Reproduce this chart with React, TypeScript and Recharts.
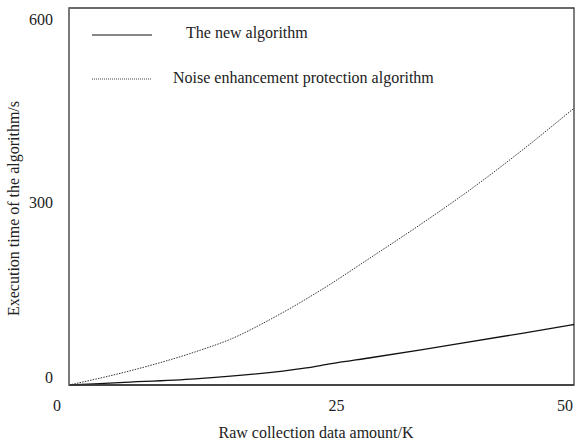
import React from "react";
import { LineChart, Line, XAxis, YAxis, ReferenceArea } from "recharts";

// raw collection data amount (K) and execution time (s)
const newAlgoX = [0, 5, 12.5, 23.5, 26, 30, 35, 38, 45, 50];
const newAlgoY = [0, 4, 10, 28, 35, 45, 58, 66, 85, 99];

const noiseX = [0, 6, 13, 16, 20, 25, 30, 35, 40, 45, 50];
const noiseY = [0, 23, 57, 75, 108, 156, 210, 265, 323, 386, 453];

const xTicks = [0, 25, 50];
const yTicks = [0, 300, 600];

const seriesNames = ["The new algorithm", "Noise enhancement protection algorithm"];

const newAlgoData = newAlgoX.map((x, i) => ({ x, y: newAlgoY[i] }));
const noiseData = noiseX.map((x, i) => ({ x, y: noiseY[i] }));

const FONT = "'Liberation Serif', 'Times New Roman', serif";
const AXIS = "#3a3a3a";

const xShift: Record<number, number> = { 0: -12, 25: 15, 50: -5 };

const XTick = (props: any) => {
    const { x, y, payload } = props;
    return (
        <text
            x={x + (xShift[payload.value] ?? 0)}
            y={y}
            dy="0.71em"
            textAnchor="middle"
            fontFamily={FONT}
            fontSize={16}
            fill="#222"
        >
            {payload.value}
        </text>
    );
};

const YTick = (props: any) => {
    const { x, y, payload } = props;
    return (
        <text
            x={x}
            y={y + (payload.value === 0 ? -8 : 1)}
            dy="0.355em"
            textAnchor="end"
            fontFamily={FONT}
            fontSize={16}
            fill="#222"
        >
            {payload.value}
        </text>
    );
};

// legend sits inside the plot box, drawn as an overlay
const LegendBox = () => (
    <div
        style={{
            position: "absolute",
            left: 92,
            top: 28,
            width: 400,
            height: 70,
            fontFamily: FONT,
            fontSize: 16,
            color: "#222",
            pointerEvents: "none",
        }}
    >
        <svg width={70} height={70} style={{ position: "absolute", left: 0, top: 0 }}>
            <line x1={0} x2={60} y1={7} y2={7} stroke="#111" strokeWidth={1.2} />
            <line x1={0} x2={60} y1={51} y2={51} stroke="#444" strokeWidth={1} strokeDasharray="1 1" />
        </svg>
        <div style={{ position: "absolute", left: 94, top: -4, whiteSpace: "nowrap" }}>{seriesNames[0]}</div>
        <div style={{ position: "absolute", left: 81, top: 41, whiteSpace: "nowrap" }}>{seriesNames[1]}</div>
    </div>
);

export default function App() {
    return (
        <div style={{ position: "fixed", left: 0, top: 0, width: 578, height: 441, background: "#fff" }}>
            <LineChart width={578} height={441} margin={{ top: 8, right: 4, bottom: 0, left: 0 }}>
                <ReferenceArea
                    x1={0}
                    x2={50}
                    y1={0}
                    y2={617}
                    fill="none"
                    fillOpacity={0}
                    stroke={AXIS}
                    strokeWidth={1.3}
                    strokeOpacity={1}
                    ifOverflow="visible"
                />
                <XAxis
                    dataKey="x"
                    type="number"
                    domain={[0, 50]}
                    ticks={xTicks}
                    allowDuplicatedCategory={false}
                    height={56}
                    tickLine={false}
                    tickSize={0}
                    tickMargin={15}
                    tick={<XTick />}
                    axisLine={{ stroke: AXIS, strokeWidth: 1.3 }}
                    label={{
                        content: (p: any) => (
                            <text
                                x={316}
                                y={p.viewBox.y + 53}
                                textAnchor="middle"
                                fontFamily={FONT}
                                fontSize={16}
                                fill="#222"
                            >
                                Raw collection data amount/K
                            </text>
                        ),
                    }}
                />
                <YAxis
                    type="number"
                    domain={[0, 617]}
                    ticks={yTicks}
                    width={69}
                    tickLine={false}
                    tickSize={0}
                    tickMargin={16}
                    tick={<YTick />}
                    axisLine={{ stroke: "#777", strokeWidth: 1.3 }}
                    label={{
                        content: (p: any) => (
                            <text
                                x={0}
                                y={0}
                                transform={`translate(19, ${p.viewBox.y + p.viewBox.height / 2 + 12}) rotate(-90)`}
                                textAnchor="middle"
                                fontFamily={FONT}
                                fontSize={16}
                                fill="#222"
                            >
                                Execution time of the algorithm/s
                            </text>
                        ),
                    }}
                />
                <Line
                    data={newAlgoData}
                    dataKey="y"
                    name={seriesNames[0]}
                    type="monotone"
                    stroke="#111"
                    strokeWidth={1.3}
                    dot={false}
                    isAnimationActive={false}
                />
                <Line
                    data={noiseData}
                    dataKey="y"
                    name={seriesNames[1]}
                    type="monotone"
                    stroke="#333"
                    strokeWidth={1}
                    strokeDasharray="1.5 1.2"
                    dot={false}
                    isAnimationActive={false}
                />
            </LineChart>
            <LegendBox />
        </div>
    );
}
